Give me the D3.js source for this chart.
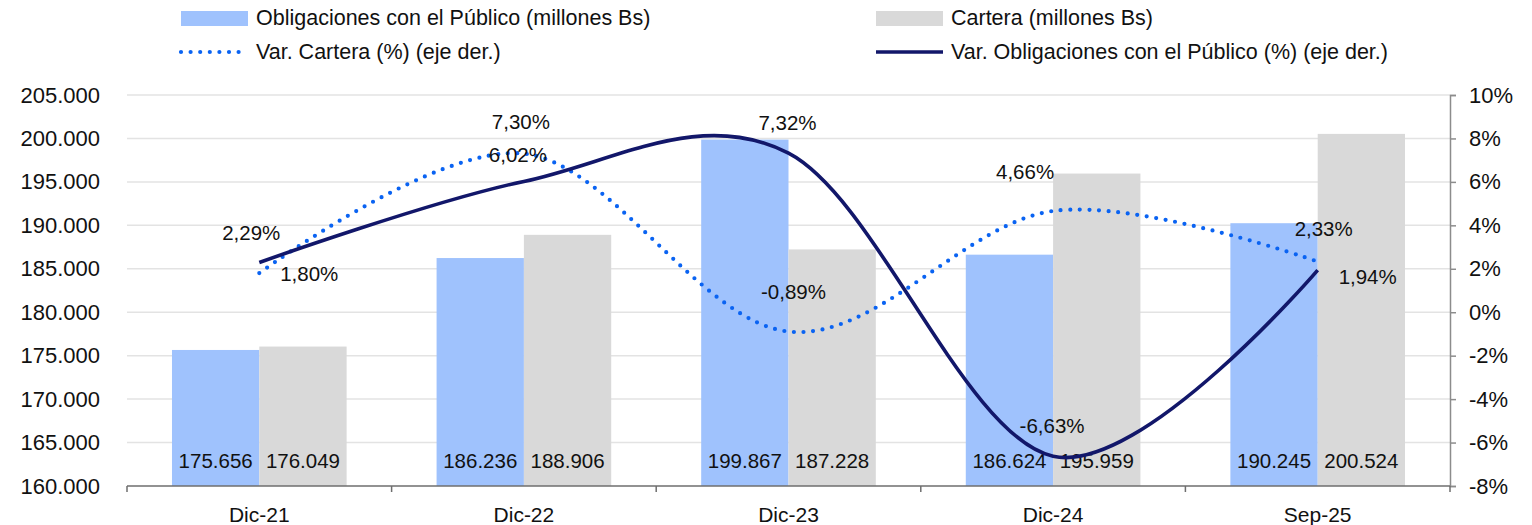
<!DOCTYPE html>
<html>
<head>
<meta charset="utf-8">
<script src="https://cdn.jsdelivr.net/npm/d3@7"></script>
<style>
  body { margin: 0; background: #fff; }
  svg { display: block; font-family: "Liberation Sans", Arial, sans-serif; }
  .grid line { stroke: #e3e3e3; stroke-width: 1.5; }
  .lbl { font-size: 20.5px; fill: #111; }
  .tick-l { font-size: 22px; fill: #111; }
  .legend text { font-family: "Liberation Sans", Arial, sans-serif; font-size: 21.5px; fill: #111; }
</style>
</head>
<body>
<script>
// data
const categories = ["Dic-21", "Dic-22", "Dic-23", "Dic-24", "Sep-25"];
const obligaciones = [175656, 186236, 199867, 186624, 190245];
const cartera = [176049, 188906, 187228, 195959, 200524];
const varCartera = [1.80, 7.30, -0.89, 4.66, 2.33];
const varObligaciones = [2.29, 6.02, 7.32, -6.63, 1.94];
const leftTicks = [160000, 165000, 170000, 175000, 180000, 185000, 190000, 195000, 200000, 205000];
const rightTicks = [-8, -6, -4, -2, 0, 2, 4, 6, 8, 10];

const W = 1532, H = 525;
const m = { left: 127, right: 82, top: 95, bottom: 39 };

const fmtNum = v => d3.format(",")(v).replace(/,/g, ".");
const fmtPct = v => v.toFixed(2).replace(".", ",") + "%";

const svg = d3.select("body").append("svg").attr("width", W).attr("height", H);

const x0 = d3.scaleBand().domain(categories)
    .range([m.left, W - m.right]).paddingInner(0.34).paddingOuter(0.17);
const x1 = d3.scaleBand().domain(["obl", "car"]).range([0, x0.bandwidth()]);
const yL = d3.scaleLinear().domain([160000, 205000]).range([H - m.bottom, m.top]);
const yR = d3.scaleLinear().domain([-8, 10]).range([H - m.bottom, m.top]);

const colors = { obl: "#9fc2fd", car: "#d9d9d9", varCar: "#0a63f2", varObl: "#12176a" };

// gridlines
svg.append("g").attr("class", "grid")
    .selectAll("line").data(leftTicks.slice(1)).enter().append("line")
    .attr("x1", m.left).attr("x2", W - m.right)
    .attr("y1", d => yL(d)).attr("y2", d => yL(d));

// left tick labels
svg.append("g").selectAll("text").data(leftTicks).enter().append("text")
    .attr("class", "tick-l")
    .attr("x", 100).attr("y", d => yL(d))
    .attr("text-anchor", "end").attr("dominant-baseline", "central")
    .text(fmtNum);

// right axis
const axR = svg.append("g").attr("transform", "translate(" + (W - m.right) + ",0)")
    .call(d3.axisRight(yR).tickValues(rightTicks).tickSize(6).tickPadding(13).tickFormat(d => d + "%"));
axR.select(".domain").attr("stroke", "#8c8c8c").attr("stroke-width", 1.5);
axR.selectAll(".tick line").attr("stroke", "#8c8c8c").attr("stroke-width", 1.5);
axR.selectAll(".tick text").attr("font-size", 22).attr("fill", "#111")
    .attr("font-family", "'Liberation Sans', Arial, sans-serif");

// bars
const bars = categories.map((c, i) => [
    { cat: c, key: "obl", v: obligaciones[i] },
    { cat: c, key: "car", v: cartera[i] }
]);

const grp = svg.append("g").selectAll("g").data(bars).enter().append("g")
    .attr("transform", d => "translate(" + x0(d[0].cat) + ",0)");

grp.selectAll("rect").data(d => d).enter().append("rect")
    .attr("x", d => x1(d.key))
    .attr("width", x1.bandwidth())
    .attr("y", d => yL(d.v))
    .attr("height", d => yL(160000) - yL(d.v))
    .attr("fill", d => colors[d.key]);

grp.selectAll("text").data(d => d).enter().append("text")
    .attr("class", "lbl")
    .attr("x", d => x1(d.key) + x1.bandwidth() / 2)
    .attr("y", H - m.bottom - 26)
    .attr("text-anchor", "middle").attr("dominant-baseline", "central")
    .text(d => fmtNum(d.v));

// x axis
const xb = H - m.bottom;
const step = x0.step();
const bounds = categories.map(c => x0(c) - step * x0.paddingInner() / 2).concat([W - m.right]);
svg.append("line").attr("x1", m.left).attr("x2", W - m.right)
    .attr("y1", xb).attr("y2", xb).attr("stroke", "#6e6e6e").attr("stroke-width", 1.5);
svg.append("g").selectAll("line").data(bounds).enter().append("line")
    .attr("x1", d => d).attr("x2", d => d)
    .attr("y1", xb).attr("y2", xb + 6).attr("stroke", "#6e6e6e").attr("stroke-width", 1.5);
svg.append("g").selectAll("text").data(categories).enter().append("text")
    .attr("x", d => x0(d) + x0.bandwidth() / 2).attr("y", xb + 28)
    .attr("text-anchor", "middle").attr("dominant-baseline", "central")
    .attr("font-size", 21).attr("fill", "#111")
    .text(d => d);

// lines
const cx = i => x0(categories[i]) + x0.bandwidth() / 2;
const line = d3.line().x((d, i) => cx(i)).y(d => yR(d)).curve(d3.curveCardinal.tension(0));

svg.append("path").datum(varCartera)
    .attr("d", line).attr("fill", "none")
    .attr("stroke", colors.varCar).attr("stroke-width", 4.2)
    .attr("stroke-linecap", "round").attr("stroke-dasharray", "0 9.6");

svg.append("path").datum(varObligaciones)
    .attr("d", line).attr("fill", "none")
    .attr("stroke", colors.varObl).attr("stroke-width", 3.6);

// line labels: offsets from each point
const carOffsets = [[50, 0], [-3, -32], [5, -40], [-28, -39], [6, -33]];
const oblOffsets = [[-8, -30], [-6, -27], [-1, -31], [-1, -31], [50, 6]];

svg.append("g").selectAll("text").data(varCartera).enter().append("text")
    .attr("class", "lbl")
    .attr("x", (d, i) => cx(i) + carOffsets[i][0])
    .attr("y", (d, i) => yR(d) + carOffsets[i][1])
    .attr("text-anchor", "middle").attr("dominant-baseline", "central")
    .text(fmtPct);

svg.append("g").selectAll("text").data(varObligaciones).enter().append("text")
    .attr("class", "lbl")
    .attr("x", (d, i) => cx(i) + oblOffsets[i][0])
    .attr("y", (d, i) => yR(d) + oblOffsets[i][1])
    .attr("text-anchor", "middle").attr("dominant-baseline", "central")
    .text(fmtPct);

// legend
const legend = svg.append("g").attr("class", "legend");
const legItems = [
    { label: "Obligaciones con el Público (millones Bs)", type: "rect", color: colors.obl, x: 181, y: 18 },
    { label: "Cartera (millones Bs)", type: "rect", color: colors.car, x: 876, y: 18 },
    { label: "Var. Cartera (%) (eje der.)", type: "dot", color: colors.varCar, x: 181, y: 52 },
    { label: "Var. Obligaciones con el Público (%) (eje der.)", type: "line", color: colors.varObl, x: 876, y: 52 }
];
legItems.forEach(it => {
    if (it.type === "rect") {
        legend.append("rect").attr("x", it.x).attr("y", it.y - 7)
            .attr("width", 67).attr("height", 15).attr("fill", it.color);
    } else {
        legend.append("line").attr("x1", it.x).attr("x2", it.x + 67)
            .attr("y1", it.y).attr("y2", it.y)
            .attr("stroke", it.color)
            .attr("stroke-width", it.type === "dot" ? 4.2 : 3.6)
            .attr("stroke-linecap", it.type === "dot" ? "round" : "butt")
            .attr("stroke-dasharray", it.type === "dot" ? "0 9.6" : null);
    }
    legend.append("text").attr("x", it.x + 75).attr("y", it.y)
        .attr("dominant-baseline", "central").text(it.label);
});
</script>
</body>
</html>
